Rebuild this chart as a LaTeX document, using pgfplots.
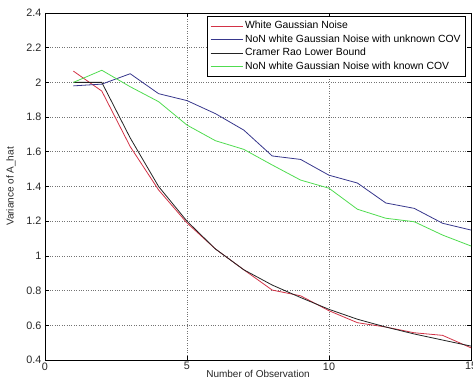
\documentclass[border=0pt]{standalone}
\usepackage{pgfplots}
\pgfplotsset{compat=1.18}
\usepackage{fontspec}
\setmainfont{Liberation Sans}
\definecolor{cRed}{RGB}{210,50,70}
\definecolor{cBlue}{RGB}{55,55,140}
\definecolor{cBlack}{RGB}{35,35,35}
\definecolor{cGreen}{RGB}{80,220,80}
\begin{document}
\begin{tikzpicture}
\begin{axis}[
  scale only axis,
  width=426pt, height=347pt,
  xmin=0, xmax=15, ymin=0.4, ymax=2.4,
  xtick={0,5,10,15},
  ytick={0.4,0.6,0.8,1,1.2,1.4,1.6,1.8,2,2.2,2.4},
  yticklabels={0.4,0.6,0.8,1,1.2,1.4,1.6,1.8,2,2.2,2.4},
  xticklabels={0,5,10,15},
  tick align=inside,
  major tick length=4pt,
  tick style={black, line width=0.6pt},
  axis line style={black, line width=0.7pt},
  grid=major,
  grid style={dotted, black!55, line width=0.6pt},
  ticklabel style={font=\fontsize{10.8}{12}\selectfont, text=black!85},
  xlabel={Number of Observation},
  ylabel={Variance of A\_hat},
  label style={font=\fontsize{10}{12}\selectfont, text=black!85},
  xlabel style={yshift=7pt},
  ylabel style={yshift=4pt},
  xticklabel style={yshift=1pt},
  legend cell align=left,
  legend style={at={(1,1)}, anchor=north east, xshift=-5pt, yshift=-3pt,
    font=\fontsize{10.4}{11}\selectfont, draw=black, line width=0.6pt,
    inner xsep=3pt, inner ysep=3pt, row sep=0pt,
    nodes={text height=7.5pt, text depth=2pt, inner ysep=2pt, inner xsep=2pt}},
  legend image code/.code={\draw[#1, line width=0.7pt] (0pt,0pt) -- (32pt,0pt);},
  every axis plot/.append style={line width=0.8pt},
]
\addplot[cRed] coordinates {(1,2.065) (2,1.95) (3,1.63) (4,1.38) (5,1.19) (6,1.04) (7,0.92) (8,0.803) (9,0.77) (10,0.684) (11,0.615) (12,0.59) (13,0.557) (14,0.542) (15,0.47)};
\addlegendentry{White Gaussian Noise}
\addplot[cBlue] coordinates {(1,1.98) (2,1.99) (3,2.05) (4,1.935) (5,1.895) (6,1.82) (7,1.725) (8,1.576) (9,1.556) (10,1.465) (11,1.42) (12,1.305) (13,1.274) (14,1.188) (15,1.149)};
\addlegendentry{NoN white Gaussian Noise with unknown COV}
\addplot[cBlack] coordinates {(1,2.0) (2,2.0) (3,1.68) (4,1.40) (5,1.20) (6,1.04) (7,0.92) (8,0.832) (9,0.76) (10,0.692) (11,0.635) (12,0.59) (13,0.55) (14,0.515) (15,0.48)};
\addlegendentry{Cramer Rao Lower Bound}
\addplot[cGreen] coordinates {(1,2.0) (2,2.07) (3,1.975) (4,1.889) (5,1.754) (6,1.664) (7,1.614) (8,1.524) (9,1.437) (10,1.39) (11,1.269) (12,1.217) (13,1.197) (14,1.12) (15,1.057)};
\addlegendentry{NoN white Gaussian Noise with known COV}
\end{axis}
\pgfresetboundingbox
\useasboundingbox (-45pt,-27pt) rectangle (428pt,360pt);
\end{tikzpicture}
\end{document}
